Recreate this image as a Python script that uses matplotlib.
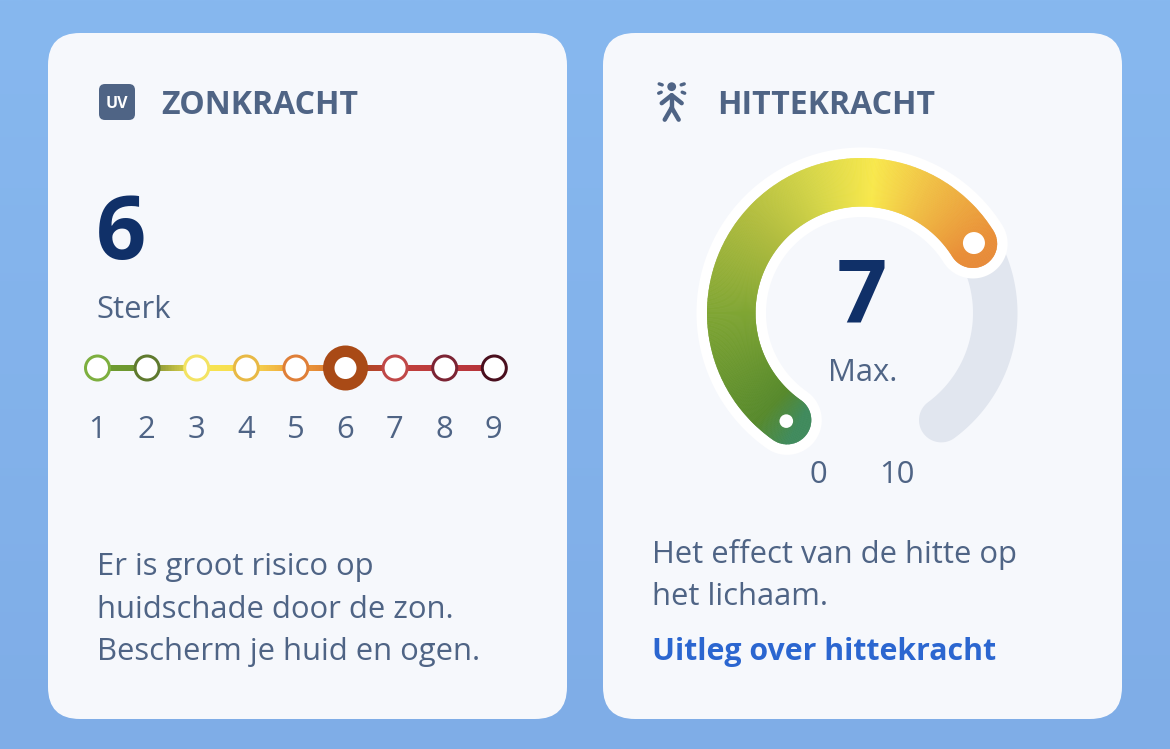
import numpy as np
import matplotlib
matplotlib.use("Agg")
import matplotlib.pyplot as plt
from matplotlib.patches import FancyBboxPatch, Circle, Polygon
from matplotlib.collections import PolyCollection, LineCollection
from matplotlib.colors import LinearSegmentedColormap

# ---- data ----
uv_levels = [1, 2, 3, 4, 5, 6, 7, 8, 9]
uv_value = 6
uv_label = "Sterk"
uv_ring_colors = ["#7DAF3F", "#5F7A2E", "#F3E363", "#E8B945", "#DF7F38",
                  "#A94A16", "#C04848", "#7C2434", "#4A0F1E"]
uv_line_stops = [0.0, 0.125, 0.15, 0.25, 0.375, 0.5, 0.625, 0.64, 0.75, 0.875, 1.0]
uv_line_colors = ["#6E9E30", "#6E9430", "#8E9A38", "#F8E650", "#F6DC50", "#EE9F3C",
                  "#D8702E", "#A84A1A", "#C0403A", "#BC3A3E", "#B53238"]
uv_text = ["Er is groot risico op", "huidschade door de zon.", "Bescherm je huid en ogen."]
heat_value = 7
heat_min = 0
heat_max = 10
heat_label = "Max."
heat_text = ["Het effect van de hitte op", "het lichaam."]
heat_link = "Uitleg over hittekracht"
# conic gradient of the gauge: angle (degrees) -> colour
gauge_angles = [250, 240, 226, 180, 140, 110, 85, 61, 31, 15]
gauge_colors = ["#3F8A5C", "#3F8A5C", "#56892B", "#7FA533", "#B0BC3E", "#D6D648",
                "#F8E84B", "#F0BE44", "#E98F37", "#E5873A"]

# ---- style ----
W, H = 1170, 749
INK = "#4F6485"
NAVY = "#103068"
CARD = "#F6F8FC"
FONT = "Open Sans"
def fs(px):
    return px * 72 / 100

fig = plt.figure(figsize=(W / 100, H / 100), dpi=100)
ax = fig.add_axes([0, 0, 1, 1])
ax.axis("off")
grad = np.linspace(0, 1, 256).reshape(-1, 1)
bg = LinearSegmentedColormap.from_list("bg", ["#87B8EF", "#7FADE7"])
ax.imshow(grad, cmap=bg, extent=(0, W, H, 0), aspect="auto", zorder=0)
ax.set_xlim(0, W)
ax.set_ylim(H, 0)

for x0 in (48, 603):
    ax.add_patch(FancyBboxPatch((x0, 33), 519, 686, boxstyle="round,pad=0,rounding_size=32",
                                fc=CARD, ec="none", zorder=1))

def T(x, y, s, px, color=INK, weight="normal", ha="left", z=6):
    ax.text(x, y, s, fontsize=fs(px), color=color, fontweight=weight, ha=ha, va="baseline",
            family=FONT, zorder=z)

# ---- left card ----
ax.add_patch(FancyBboxPatch((99, 84), 36, 36, boxstyle="round,pad=0,rounding_size=6",
                            fc=INK, ec="none", zorder=3))
T(117, 107.5, "UV", 16, color="white", weight="bold", ha="center")
T(161, 114, "ZONKRACHT", 32, weight="bold")
T(96, 259, str(uv_value), 88, color=NAVY, weight="bold")
T(96, 318, uv_label, 31)

def ux(level):
    return 97.5 + (level - 1) * 49.6
UY = 368
line_cmap = LinearSegmentedColormap.from_list("uvline", list(zip(uv_line_stops, uv_line_colors)))
ts = np.linspace(0, 1, 400)
xs = ux(1) + ts * (ux(uv_levels[-1]) - ux(1))
segs = [[(xs[i], UY), (xs[i + 1], UY)] for i in range(len(xs) - 1)]
ax.add_collection(LineCollection(segs, colors=line_cmap(ts[:-1]), linewidths=6 * 0.72,
                                 capstyle="butt", zorder=3))
for lev, col in zip(uv_levels, uv_ring_colors):
    x = ux(lev)
    if lev == uv_value:
        ax.add_patch(Circle((x, UY), 22.5, fc=col, ec="none", zorder=4))
        ax.add_patch(Circle((x, UY), 11, fc="white", ec="none", zorder=5))
    else:
        ax.add_patch(Circle((x, UY), 12, fc="white", ec=col, lw=3 * 0.72, zorder=4))
    T(x - 0.5, 438, str(lev), 31, ha="center")
for i, s in enumerate(uv_text):
    T(97, 575 + i * 42.5, s, 31)

# ---- right card: icon ----
ix, iy = 671.7, 86.7
ax.add_patch(Circle((ix, iy), 4.4, fc=INK, ec="none", zorder=4))
icon = [[(ix, iy + 9), (ix, iy + 21)], [(ix - 10, iy + 16.5), (ix, iy + 8.5)],
        [(ix + 10, iy + 16.5), (ix, iy + 8.5)], [(ix, iy + 21), (ix - 7, iy + 33)],
        [(ix, iy + 21), (ix + 7, iy + 33)]]
ax.add_collection(LineCollection(icon, colors=INK, linewidths=4.4 * 0.72, capstyle="round", zorder=4))
drops = [[(ix - 12.5, iy - 2.8), (ix - 9.5, iy - 1.8)], [(ix + 12.5, iy - 2.8), (ix + 9.5, iy - 1.8)],
         [(ix - 13, iy + 6.5), (ix - 10.5, iy + 5.5)], [(ix + 13, iy + 6.5), (ix + 10.5, iy + 5.5)]]
ax.add_collection(LineCollection(drops, colors=INK, linewidths=3.4 * 0.72, capstyle="round", zorder=4))
T(717, 114, "HITTEKRACHT", 32, weight="bold")

# ---- gauge ----
CX, CY = 862, 313
A0, SPAN = 235.0, 290.0
def ang(v):
    return A0 - SPAN * (v - heat_min) / (heat_max - heat_min)
def pt(a, r):
    t = np.radians(a)
    return CX + r * np.cos(t), CY - r * np.sin(t)
def arc(a1, a2, r, n=200):
    t = np.radians(np.linspace(a1, a2, n))
    return np.c_[CX + r * np.cos(t), CY - r * np.sin(t)]
def semi(center, a_from, r, n=60):
    t = np.radians(np.linspace(a_from, a_from - 180, n))
    return np.c_[center[0] + r * np.cos(t), center[1] - r * np.sin(t)]
def capsule(a1, a2, r1, r2):
    """Arc band from a1 down to a2 with round ends."""
    rm, hw = (r1 + r2) / 2, (r2 - r1) / 2
    return np.vstack([
        arc(a1, a2, r2),
        semi(pt(a2, rm), a2, hw),
        arc(a2, a1, r1),
        semi(pt(a1, rm), a1 + 180, hw),
    ])

a_s, a_v, a_e = ang(heat_min), ang(heat_value), ang(heat_max)
ax.add_patch(Polygon(capsule(a_s, a_e + 1.5, 111, 155.5), fc="#E1E6EF", ec="none", zorder=2))
ax.add_patch(Polygon(capsule(a_s, a_v, 96, 165.5), fc="white", ec="none", zorder=3))

shape = Polygon(capsule(a_s, a_v, 106.5, 155), fc="none", ec="none", transform=ax.transData, zorder=3)
ax.add_patch(shape)
N = 480
edges = np.linspace(gauge_angles[0], gauge_angles[-1], N + 1)
polys = [np.vstack([[pt(edges[i], 95)], [pt(edges[i], 175)], [pt(edges[i + 1], 175)], [pt(edges[i + 1], 95)]])
         for i in range(N)]
mids = (edges[:-1] + edges[1:]) / 2
xa = np.array(gauge_angles[::-1], float)
rgb = np.array([matplotlib.colors.to_rgb(c) for c in gauge_colors[::-1]])
cols = np.c_[[np.interp(mids, xa, rgb[:, k]) for k in range(3)]].T
pc = PolyCollection(polys, facecolors=cols, edgecolors=cols, linewidths=0.5, zorder=4)
ax.add_collection(pc)
pc.set_clip_path(shape)
ax.add_patch(Circle(pt(a_s, 132), 6.8, fc="white", ec="none", zorder=5))
ax.add_patch(Circle(pt(a_v, 132), 11, fc="white", ec="none", zorder=5))

T(CX, 322, str(heat_value), 88, color=NAVY, weight="bold", ha="center")
T(862.5, 381, heat_label, 31, ha="center")
T(818.5, 483, str(heat_min), 31, ha="center")
T(897, 483, str(heat_max), 31, ha="center")
for i, s in enumerate(heat_text):
    T(652, 563 + i * 42, s, 31)
T(652, 660, heat_link, 30.3, color="#2B66D0", weight="bold")

fig.savefig("out.png", dpi=100)
